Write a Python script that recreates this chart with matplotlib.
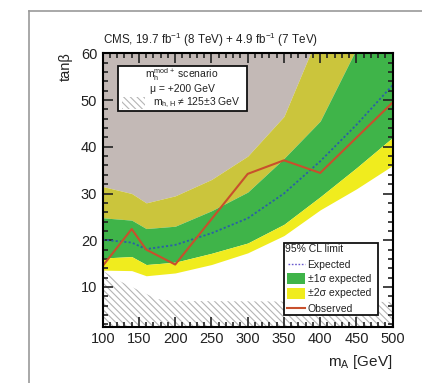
import matplotlib
matplotlib.use("Agg")
import matplotlib.pyplot as plt
import numpy as np
from matplotlib.patches import Rectangle
from matplotlib.lines import Line2D
from matplotlib.ticker import MultipleLocator

plt.rcParams['font.family'] = ['Liberation Sans', 'DejaVu Sans']
plt.rcParams['mathtext.fontset'] = 'custom'
plt.rcParams['mathtext.rm'] = 'Liberation Sans'
plt.rcParams['mathtext.it'] = 'Liberation Sans:italic'
plt.rcParams['hatch.linewidth'] = 0.8

# ---------------- data ----------------
mA = [100, 140, 160, 200, 250, 300, 350, 400, 450, 500]
expected = [20.1, 19.5, 18.1, 19.0, 21.5, 24.7, 30.0, 36.9, 44.7, 53.2]
minus2 = [13.6, 13.5, 12.4, 13.0, 14.8, 17.3, 21.0, 26.5, 31.0, 36.0]
minus1 = [16.2, 16.5, 14.8, 15.3, 17.2, 19.4, 23.4, 29.3, 35.5, 42.0]
plus1 = [24.8, 24.3, 22.5, 23.0, 26.3, 30.3, 37.5, 45.5, 61.0, 75.0]
plus2 = [31.5, 30.0, 28.0, 29.5, 33.0, 38.0, 46.5, 65.0, 80.0, 95.0]

obs_mA = [100, 140, 160, 200, 300, 350, 400, 500]
observed = [14.5, 22.4, 18.0, 14.8, 34.2, 37.1, 34.4, 49.5]

hatch_mA = [100, 120, 175, 200, 500]
hatch_tb = [13.5, 11.5, 7.4, 7.0, 6.8]

xticks = [100, 150, 200, 250, 300, 350, 400, 450, 500]
yticks = [10, 20, 30, 40, 50, 60]

c_gray = '#c3b9b6'
c_olive = '#cbc53c'
c_green = '#3fb449'
c_yellow = '#f0ec1e'
c_red = '#c8502c'
c_blue = '#2a5fa8'
hatch_pat = '\\' * 5

W, H = 422, 383
fig = plt.figure(figsize=(W / 100, H / 100), dpi=100)
ax = fig.add_axes([102.7 / W, 1 - 326.7 / H, 290 / W, 273.4 / H])

ymin, ymax = 1.5, 60
ax.fill_between(mA, plus2, 100, color=c_gray, lw=0)
ax.fill_between(mA, plus1, plus2, color=c_olive, lw=0)
ax.fill_between(mA, minus1, plus1, color=c_green, lw=0)
ax.fill_between(mA, minus2, minus1, color=c_yellow, lw=0)
ax.fill_between(hatch_mA, ymin, hatch_tb, facecolor='none', edgecolor='#b4b4b4',
                hatch=hatch_pat, lw=0)
ax.plot(mA, expected, color=c_blue, ls=(0, (1.2, 1.2)), lw=1.3)
ax.plot(obs_mA, observed, color=c_red, lw=1.5)

ax.set_xlim(100, 500)
ax.set_ylim(ymin, ymax)
ax.set_xticks(xticks)
ax.set_yticks(yticks)
ax.xaxis.set_minor_locator(MultipleLocator(10))
ax.yaxis.set_minor_locator(MultipleLocator(2))
ax.tick_params(which='both', direction='in', top=True, right=True, width=1.2,
               labelsize=10.5, colors='#222222')
ax.tick_params(which='major', length=7, pad=4)
ax.tick_params(which='minor', length=3.5)
for s in ax.spines.values():
    s.set_linewidth(1.5)

fig.text(66 / W, 1 - 67 / H, 'tanβ', rotation=90, ha='center', va='center',
         fontsize=10.5, color='#222222')
fig.text(392 / W, 1 - 362 / H, r'm$_{\rm A}$ [GeV]', ha='right', va='center',
         fontsize=11, color='#222222')
fig.text(103 / W, 1 - 39.5 / H,
         r'CMS, 19.7 fb$^{-1}$ (8 TeV) + 4.9 fb$^{-1}$ (7 TeV)',
         ha='left', va='center', fontsize=8.4, color='#222222')

# outer frame
fig.add_artist(Line2D([29 / W, 29 / W], [0, 1 - 11 / H], transform=fig.transFigure,
                      color='#9a9a9a', lw=1.2))
fig.add_artist(Line2D([29 / W, 1], [1 - 11 / H, 1 - 11 / H], transform=fig.transFigure,
                      color='#9a9a9a', lw=1.2))


def fx(px):
    return px / W


def fy(py):
    return 1 - py / H


# upper-left info box
fig.add_artist(Rectangle((fx(118.3), fy(110.7)), (247.3 - 118.3) / W, (110.7 - 66) / H,
                         transform=fig.transFigure, facecolor='white',
                         edgecolor='#111111', lw=1.3, zorder=5))
fig.text(fx(182), fy(75), r'm$_{\rm h}^{\rm mod+}$ scenario', ha='center', va='center',
         fontsize=7.5, zorder=6, color='#222222')
fig.text(fx(182), fy(89), 'μ = +200 GeV', ha='center', va='center',
         fontsize=7.5, zorder=6, color='#222222')
fig.add_artist(Rectangle((fx(122), fy(108.5)), (145 - 122) / W, 11 / H,
                         transform=fig.transFigure, facecolor='white',
                         edgecolor='#b4b4b4', hatch=hatch_pat, lw=0, zorder=6))
fig.text(fx(153), fy(103), r'm$_{\rm h,H}$ ≠ 125±3 GeV', ha='left', va='center',
         fontsize=7.5, zorder=6, color='#222222')

# lower-right legend
fig.add_artist(Rectangle((fx(284), fy(315)), (378.3 - 284) / W, (315 - 242.7) / H,
                         transform=fig.transFigure, facecolor='white',
                         edgecolor='#111111', lw=1.3, zorder=5))
fig.text(fx(285), fy(249.5), '95% CL limit', ha='left', va='center', fontsize=7.5,
         zorder=6, color='#222222')
fig.add_artist(Line2D([fx(288), fx(305)], [fy(264), fy(264)], transform=fig.transFigure,
                      color='#6a5acd', ls=(0, (1.2, 1.2)), lw=1.0, zorder=6))
fig.text(fx(307.5), fy(264.5), 'Expected', ha='left', va='center', fontsize=7.5,
         zorder=6, color='#222222')
fig.add_artist(Rectangle((fx(287), fy(284)), 18 / W, 11 / H, transform=fig.transFigure,
                         facecolor=c_green, lw=0, zorder=6))
fig.text(fx(307.5), fy(278.5), '±1σ expected', ha='left', va='center', fontsize=7.5,
         zorder=6, color='#222222')
fig.add_artist(Rectangle((fx(287), fy(299)), 18 / W, 11 / H, transform=fig.transFigure,
                         facecolor=c_yellow, lw=0, zorder=6))
fig.text(fx(307.5), fy(293.5), '±2σ expected', ha='left', va='center', fontsize=7.5,
         zorder=6, color='#222222')
fig.add_artist(Line2D([fx(287), fx(305)], [fy(308.3), fy(308.3)], transform=fig.transFigure,
                      color=c_red, lw=1.5, zorder=6))
fig.text(fx(307.5), fy(308.5), 'Observed', ha='left', va='center', fontsize=7.5,
         zorder=6, color='#222222')

fig.savefig('out.png', dpi=100)
